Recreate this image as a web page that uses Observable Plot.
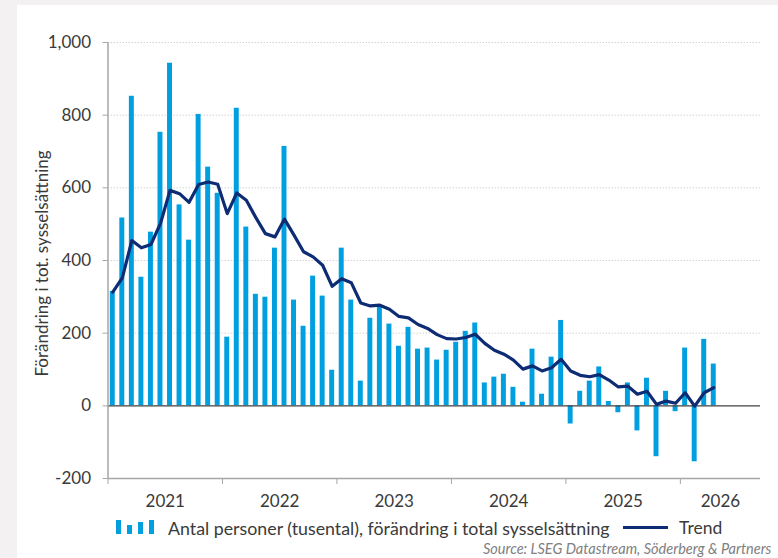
<!DOCTYPE html>
<html><head><meta charset="utf-8">
<script src="https://cdn.jsdelivr.net/npm/d3@7"></script>
<script src="https://cdn.jsdelivr.net/npm/@observablehq/plot@0.6"></script>
<style>
html,body{margin:0;padding:0;width:778px;height:558px;overflow:hidden;background:#f3f1f2;font-family:Lato,sans-serif;}
#panel{position:absolute;left:17px;top:5px;width:761px;height:553px;background:#fff;}
#chart{position:absolute;left:0;top:0;}
.lbar{position:absolute;width:5px;background:#009fdf;}
.ltext{position:absolute;font-size:17px;color:#3a3a3a;line-height:20px;white-space:nowrap;}
#lline{position:absolute;left:623px;top:526px;width:45px;height:3px;background:#0d2c74;}
#source{position:absolute;left:483px;top:541px;font-size:14.5px;font-style:italic;color:#808080;white-space:nowrap;line-height:16px;}
</style></head><body>
<div id="panel"></div>
<div id="chart"></div>
<div class="lbar" style="left:116px;top:520px;height:14px"></div>
<div class="lbar" style="left:127px;top:525px;height:9px"></div>
<div class="lbar" style="left:138px;top:522px;height:12px"></div>
<div class="lbar" style="left:149px;top:520px;height:14px"></div>
<div class="ltext" id="lt1" style="left:168px;top:518px;font-size:17.8px"></div>
<div id="lline"></div>
<div class="ltext" id="lt2" style="left:679px;top:518px;font-size:17.5px"></div>
<div id="source"></div>
<script>
const bars = [315,517,852,354,478,753,943,553,456,802,
  657,585,189,819,492,307,299,434,714,291,
  219,357,302,98,434,291,68,241,274,225,
  164,216,156,159,126,153,175,205,228,63,
  79,87,51,10,156,32,134,235,-50,40,
  68,107,12,-19,63,-69,76,-140,40,-16,
  159,-154,183,115];
const trend = [313,352,455,435,444,502,593,584,560,609,
  616,610,529,586,566,518,474,465,514,470,
  424,410,387,329,350,339,283,275,277,266,
  246,242,224,213,196,185,184,188,197,172,
  153,142,126,101,110,96,105,128,96,84,
  80,86,71,52,54,32,40,4,13,7,
  36,-1,36,50];
const years = ["2021","2022","2023","2024","2025","2026"];
const yearStart = [0,12,24,36,48,60];
const xEnd = 68.4;
const yTicks = [-200,0,200,400,600,800,1000];
const yTitle = "Förändring i tot. sysselsättning";
const barLabel = "Antal personer (tusental), förändring i total sysselsättning";
const trendLabel = "Trend";
const sourceText = "Source: LSEG Datastream, Söderberg & Partners";

const data = bars.map((v, i) => ({i, v, t: trend[i]}));
const yearMid = yearStart.map((s, k) => (s + (k < yearStart.length - 1 ? yearStart[k + 1] : xEnd)) / 2);
const fmt = d => (d < 0 ? "-" : "") + d3.format(",")(Math.abs(d));

const chart = Plot.plot({
  width: 778, height: 510,
  marginLeft: 107.5, marginRight: 18, marginTop: 42, marginBottom: 32,
  style: {background: "transparent", fontFamily: "Lato, sans-serif", overflow: "visible"},
  x: {domain: [0, xEnd], axis: null},
  y: {domain: [-200, 1000], axis: null},
  marks: [
    Plot.ruleY(yTicks.filter(d => d > 0), {x1: 0, x2: xEnd, stroke: "#d4d4d4", strokeDasharray: "1.5,1.5"}),
    Plot.rectY(data, {x1: d => d.i + 0.24, x2: d => d.i + 0.76, y1: 0, y2: "v", fill: "#009fdf"}),
    Plot.ruleY([0], {x1: 0, x2: xEnd, stroke: "#404040", strokeWidth: 1.3}),
    Plot.ruleY([-200], {x1: 0, x2: xEnd, stroke: "#a6a6a6", strokeWidth: 1.5}),
    Plot.ruleX([0], {y1: -200, y2: 1000, stroke: "#a6a6a6", strokeWidth: 1.5}),
    Plot.axisY({ticks: yTicks, tickSize: 5, tickPadding: 12, tickFormat: fmt, fontSize: 17, stroke: "#a6a6a6", fill: "#3a3a3a", label: null}),
    Plot.axisX({ticks: yearStart, tickSize: 6, tickFormat: () => "", stroke: "#a6a6a6", label: null}),
    Plot.text(years, {x: (d, i) => yearMid[i], y: () => -200, dy: 23, fontSize: 17, fill: "#3a3a3a"}),
    Plot.text([yTitle], {frameAnchor: "left", textAnchor: "middle", rotate: -90, dx: -65, dy: 3, fontSize: 17, fill: "#3a3a3a"}),
    Plot.line(data, {x: d => d.i + 0.5, y: "t", stroke: "#0d2c74", strokeWidth: 3.2, strokeLinejoin: "round"})
  ]
});
document.getElementById("chart").appendChild(chart);
document.getElementById("lt1").textContent = barLabel;
document.getElementById("lt2").textContent = trendLabel;
document.getElementById("source").textContent = sourceText;
</script>
</body></html>
